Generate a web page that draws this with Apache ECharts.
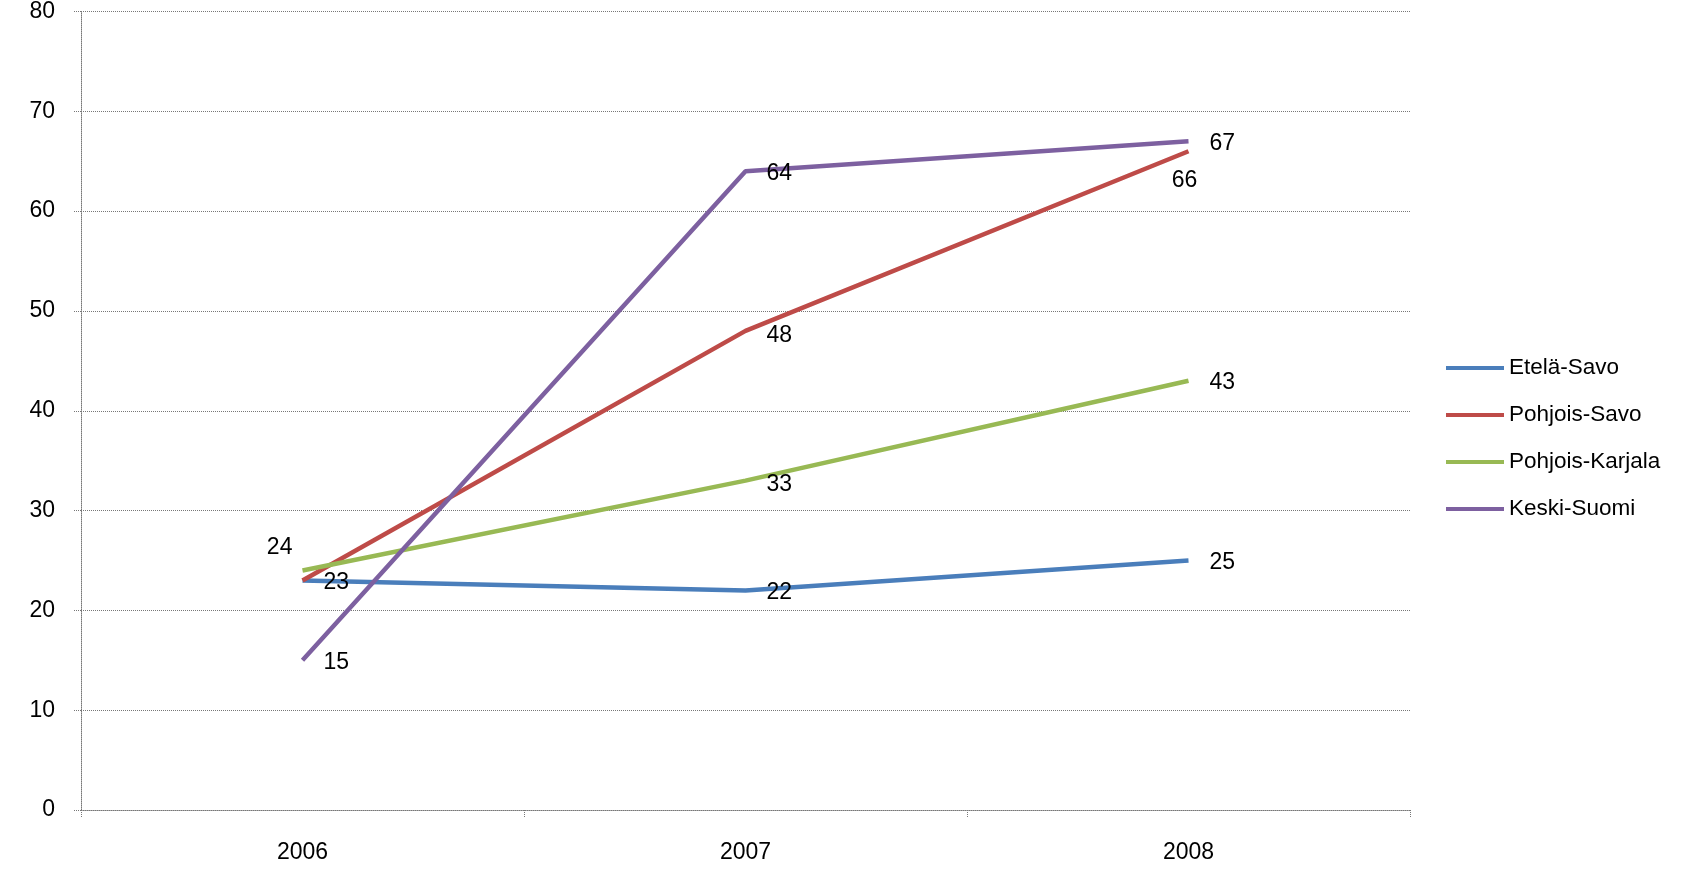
<!DOCTYPE html>
<html>
<head>
<meta charset="utf-8">
<script src="https://cdn.jsdelivr.net/npm/echarts@6/dist/echarts.min.js"></script>
<style>html,body{margin:0;padding:0;background:#fff}#c{width:1689px;height:874px}</style>
</head>
<body>
<div id="c"></div>
<script>
const years = ['2006', '2007', '2008'];
const seriesNames = ['Etelä-Savo', 'Pohjois-Savo', 'Pohjois-Karjala', 'Keski-Suomi'];
const etelaSavo = [23, 22, 25];
const pohjoisSavo = [23, 48, 66];
const pohjoisKarjala = [24, 33, 43];
const keskiSuomi = [15, 64, 67];
const yTicks = [0, 10, 20, 30, 40, 50, 60, 70, 80];

const colors = ['#4A7EBB', '#BE4B48', '#98B954', '#7D60A0'];
const FONT = 'Liberation Sans';
const FS = 23;

function pts(vals, labelCfg) {
  return vals.map((v, i) => {
    const d = { value: v };
    if (labelCfg && labelCfg[i]) d.label = labelCfg[i];
    return d;
  });
}

const baseLabel = { show: true, position: 'right', distance: 21, offset: [0, 2], color: '#000', fontFamily: FONT, fontSize: FS };
const lineBase = {
  type: 'line', showSymbol: true, symbol: 'circle', symbolSize: 0.1,
  itemStyle: { borderWidth: 0 }, lineStyle: { width: 4.5 }, label: baseLabel,
  emphasis: { disabled: true }
};

const chart = echarts.init(document.getElementById('c'), null, { renderer: 'canvas' });
chart.setOption({
  animation: false,
  color: colors,
  textStyle: { fontFamily: FONT },
  grid: { left: 81, right: 279, top: 11, bottom: 64 },
  legend: {
    orient: 'vertical',
    left: 1441,
    top: 351,
    icon: 'rect',
    itemWidth: 58,
    itemHeight: 4,
    itemGap: 23,
    textStyle: { fontFamily: FONT, fontSize: 22.5, color: '#000', lineHeight: 24 },
    data: seriesNames
  },
  xAxis: {
    type: 'category',
    data: years,
    boundaryGap: true,
    axisLine: { show: true, lineStyle: { color: '#777', type: [1, 1], width: 1 } },
    axisTick: { show: true, length: 8, interval: 0, lineStyle: { color: '#777', type: [1, 1] } },
    axisLabel: { color: '#000', fontFamily: FONT, fontSize: FS, margin: 31 },
    splitLine: { show: false }
  },
  yAxis: {
    type: 'value',
    min: yTicks[0],
    max: yTicks[yTicks.length - 1],
    interval: 10,
    axisLine: { show: true, lineStyle: { color: '#777', type: [1, 1], width: 1 } },
    axisTick: { show: true, length: 8, lineStyle: { color: '#777', type: [1, 1] } },
    axisLabel: { color: '#000', fontFamily: FONT, fontSize: FS, margin: 26 },
    splitLine: { show: true, lineStyle: { color: '#777', type: [1, 1], width: 1 } }
  },
  series: [
    Object.assign({}, lineBase, { name: seriesNames[0], data: pts(etelaSavo), z: 2 }),
    Object.assign({}, lineBase, {
      name: seriesNames[1], z: 3,
      data: pts(pohjoisSavo, [{ show: false }, { offset: [0, 5] }, { position: 'bottom', distance: 18, offset: [-4, 0] }])
    }),
    Object.assign({}, lineBase, {
      name: seriesNames[2], z: 4,
      data: pts(pohjoisKarjala, [{ position: 'left', distance: 10, offset: [0, -23] }, { offset: [0, 4] }, null])
    }),
    Object.assign({}, lineBase, { name: seriesNames[3], data: pts(keskiSuomi), z: 5 })
  ]
});
</script>
</body>
</html>
